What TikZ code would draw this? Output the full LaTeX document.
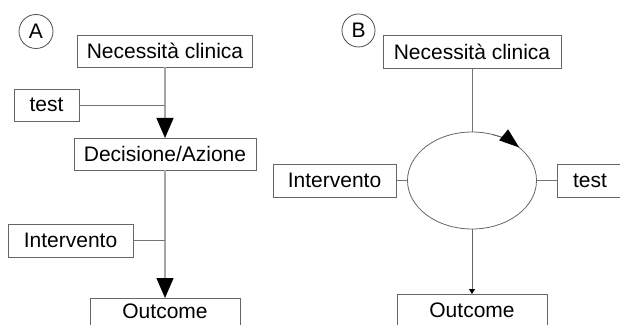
\documentclass[tikz,border=0pt]{standalone}
\usepackage{fontspec}
\setmainfont{Liberation Sans}
\usepackage{tikz}
\usetikzlibrary{positioning,arrows.meta,shapes.geometric}

\tikzset{
  box/.style={draw=black!60, line width=0.9pt, minimum height=32pt, inner sep=0pt, outer sep=0pt},
  tag/.style={draw=black!70, line width=0.8pt, circle, inner sep=0pt, outer sep=0pt},
  feed/.style={draw=black!55, line width=0.8pt},
  flow/.style={draw=black!35, line width=1.2pt, -{Triangle[width=17pt,length=20pt,color=black]}},
  thin flow/.style={draw=black!60, line width=0.8pt, -{Triangle[width=6pt,length=5pt,color=black]}}
}

\begin{document}
\begin{tikzpicture}[x=1pt,y=1pt,font=\fontsize{21pt}{25pt}\selectfont]
\useasboundingbox (0,0) rectangle (620,324);
\clip (0,0) rectangle (620,324);

% A
\node [tag, minimum size=34pt] (tagA) at (36,292.5) {A};
\node [box, minimum width=175pt] (needA) at (165,273) {Necessità clinica};
\node [box, minimum width=182pt, below=71pt of needA] (decA) {Decisione/Azione};
\node [box, minimum width=150pt, minimum height=40pt, text height=15.2pt, text depth=14.4pt, below=128pt of decA] (outA) {Outcome};
\node [box, minimum width=65pt] (testA) at (46.5,219) {test};
\node [box, minimum width=125pt, minimum height=33pt] (intA) at (70.5,83.5) {Intervento};
\coordinate (jA1) at (testA.east -| needA.south); \coordinate (jA2) at (intA.east -| decA.south);
\draw [flow] (needA) -- (decA);
\draw [flow] (decA) -- (outA);
\draw [feed] (testA) -- (jA1); \draw [feed] (intA) -- (jA2);

% B
\node [tag, minimum size=33pt] (tagB) at (358.5,293.5) {B};
\node [box, minimum width=178pt, minimum height=33pt] (needB) at (472,272.5) {Necessità clinica};
\node [ellipse, draw=black!60, line width=0.8pt, minimum width=129pt, minimum height=97pt, inner sep=0pt, outer sep=0pt, below=64pt of needB] (ellB) {};
\node [box, minimum width=150pt, below=65pt of ellB] (outB) {Outcome};
\node [box, minimum width=123pt, minimum height=33pt, left=11.5pt of ellB] (intB) {Intervento};
\node [box, minimum width=65pt, minimum height=33pt, right=21pt of ellB] (testB) {test};
\draw [feed] (needB) -- (ellB);
\draw [thin flow] (ellB) -- (outB);
\draw [feed] (intB) -- (ellB); \draw [feed] (ellB) -- (testB);
\draw [draw=black!60, line width=0.8pt, -{Triangle[width=14pt,length=20pt,color=black]}]
  (ellB.center) ++(72:64.5 and 48.5) arc[start angle=72, end angle=43, x radius=64.5, y radius=48.5];
\end{tikzpicture}
\end{document}
